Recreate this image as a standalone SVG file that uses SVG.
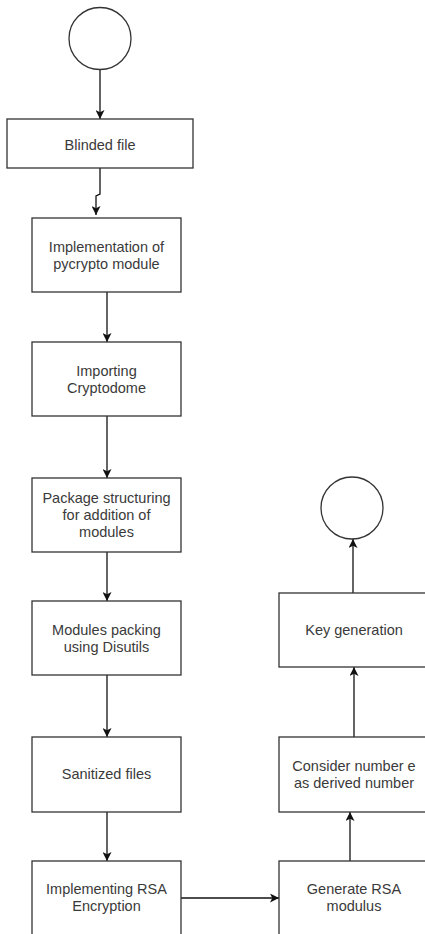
<svg xmlns="http://www.w3.org/2000/svg" width="425" height="934" viewBox="0 0 425 934">
<style>
.n{fill:#fff;stroke:#333;stroke-width:1.3}
.t{font-family:"Liberation Sans",Arial,sans-serif;font-size:14.5px;fill:#3a3a3a;text-anchor:middle;dominant-baseline:central}
.c{fill:none;stroke:#111;stroke-width:1.3}
</style>
<defs>
<marker id="a" viewBox="0 0 10 10" refX="10" refY="5" markerWidth="9" markerHeight="9" markerUnits="userSpaceOnUse" orient="auto">
<path d="M0,0 L10,5 L0,10 L2.5,5 Z" fill="#111"/>
</marker>
</defs>
<rect width="425" height="934" fill="#fff"/>
<g id="connectors">
<path class="c" d="M100,70 V119" marker-end="url(#a)"/>
<path class="c" d="M100,168 V194 L96,196 V215" marker-end="url(#a)"/>
<path class="c" d="M107,292 V342" marker-end="url(#a)"/>
<path class="c" d="M107,416 V478" marker-end="url(#a)"/>
<path class="c" d="M107,552 V601" marker-end="url(#a)"/>
<path class="c" d="M107,675 V737" marker-end="url(#a)"/>
<path class="c" d="M107,812 V861" marker-end="url(#a)"/>
<path class="c" d="M181,898 H279" marker-end="url(#a)"/>
<path class="c" d="M350,861 V812" marker-end="url(#a)"/>
<path class="c" d="M354,737 V667" marker-end="url(#a)"/>
<path class="c" d="M353,593 V539" marker-end="url(#a)"/>
</g>
<g id="start"><circle class="n" cx="100" cy="38.5" r="31"/></g>
<g id="blinded"><rect class="n" x="7" y="119" width="186" height="49"/><text class="t" x="100" y="145">Blinded file</text></g>
<g id="pycrypto"><rect class="n" x="32" y="218" width="149" height="74"/><text class="t" x="106.5" y="247">Implementation of</text><text class="t" x="106.5" y="264">pycrypto module</text></g>
<g id="cryptodome"><rect class="n" x="32" y="342" width="149" height="74"/><text class="t" x="106.5" y="371">Importing</text><text class="t" x="106.5" y="388">Cryptodome</text></g>
<g id="package"><rect class="n" x="32" y="478" width="149" height="74"/><text class="t" x="106.5" y="498">Package structuring</text><text class="t" x="106.5" y="515">for addition of</text><text class="t" x="106.5" y="532">modules</text></g>
<g id="disutils"><rect class="n" x="32" y="601" width="149" height="74"/><text class="t" x="106.5" y="630">Modules packing</text><text class="t" x="106.5" y="647">using Disutils</text></g>
<g id="sanitized"><rect class="n" x="32" y="737" width="149" height="75"/><text class="t" x="106.5" y="774">Sanitized files</text></g>
<g id="rsa"><rect class="n" x="32" y="861" width="149" height="75"/><text class="t" x="106.5" y="889">Implementing RSA</text><text class="t" x="106.5" y="906">Encryption</text></g>
<g id="modulus"><rect class="n" x="279" y="861" width="150" height="75"/><text class="t" x="354" y="889">Generate RSA</text><text class="t" x="354" y="906">modulus</text></g>
<g id="consider"><rect class="n" x="279" y="737" width="150" height="75"/><text class="t" x="354" y="766">Consider number e</text><text class="t" x="354" y="783">as derived number</text></g>
<g id="keygen"><rect class="n" x="279" y="593" width="150" height="74"/><text class="t" x="354" y="630">Key generation</text></g>
<g id="end"><circle class="n" cx="352" cy="508" r="31"/></g>
</svg>
